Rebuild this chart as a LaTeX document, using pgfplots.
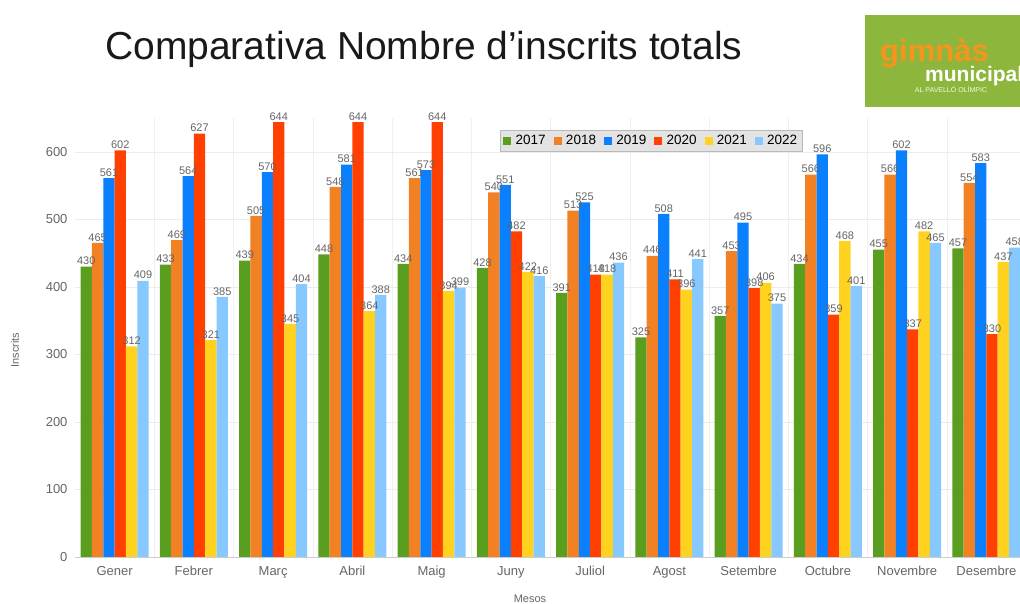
\documentclass[border=0pt]{standalone}
\usepackage{pgfplots}
\pgfplotsset{compat=1.18}
\usepackage{fontspec}
\setmainfont{Liberation Sans}
\definecolor{c17}{HTML}{5A9E1F}
\definecolor{c18}{HTML}{F28124}
\definecolor{c19}{HTML}{0A80FF}
\definecolor{c20}{HTML}{FF4000}
\definecolor{c21}{HTML}{FFD21F}
\definecolor{c22}{HTML}{87C8FF}
\definecolor{logogreen}{HTML}{8DB63C}
\definecolor{logoorange}{HTML}{F7941D}
\definecolor{lblgray}{HTML}{666666}
\begin{document}
\begin{tikzpicture}[x=1pt,y=1pt]
\path[use as bounding box, clip] (0,0) rectangle (1020,603);
\fill[white] (0,0) rectangle (1020,603);
\begin{axis}[
  at={(75pt,46pt)}, anchor=south west,
  scale only axis, width=951pt, height=439pt,
  xmin=-0.5, xmax=11.5, ymin=0, ymax=650,
  clip=false,
  ybar=0pt, bar width=0.143,
  axis line style={draw=none},
  xtick={0,...,11},
  xticklabels={Gener,Febrer,Març,Abril,Maig,Juny,Juliol,Agost,Setembre,Octubre,Novembre,Desembre},
  minor xtick={0.5,1.5,...,10.5},
  xminorgrids, ymajorgrids,
  minor grid style={gray!12},
  major grid style={gray!15},
  ytick={0,100,...,600},
  major tick length=0pt, minor tick length=0pt,
  /pgf/number format/assume math mode=true,
  ticklabel style={font=\fontsize{13}{13}\selectfont, text=lblgray},
  xticklabel style={yshift=-6pt},
  yticklabel style={xshift=-4pt},
  nodes near coords,
  every node near coord/.append style={font=\fontsize{11}{11}\selectfont, text=lblgray, inner sep=1.5pt},
  legend style={at={(0.606,0.948)}, anchor=center, fill=gray!22, draw=gray!55,
    font=\fontsize{13.5}{13.5}\selectfont, inner ysep=3pt,
    /tikz/every even column/.append style={column sep=6pt}},
  legend columns=-1,
  legend image code/.code={\fill[#1,draw=none] (0pt,-4pt) rectangle (8pt,4pt);},
]
\addplot[fill=c17,draw=none] coordinates {(0,430)(1,433)(2,439)(3,448)(4,434)(5,428)(6,391)(7,325)(8,357)(9,434)(10,455)(11,457)};
\addplot[fill=c18,draw=none] coordinates {(0,465)(1,469)(2,505)(3,548)(4,561)(5,540)(6,513)(7,446)(8,453)(9,566)(10,566)(11,554)};
\addplot[fill=c19,draw=none] coordinates {(0,561)(1,564)(2,570)(3,581)(4,573)(5,551)(6,525)(7,508)(8,495)(9,596)(10,602)(11,583)};
\addplot[fill=c20,draw=none] coordinates {(0,602)(1,627)(2,644)(3,644)(4,644)(5,482)(6,418)(7,411)(8,398)(9,359)(10,337)(11,330)};
\addplot[fill=c21,draw=none] coordinates {(0,312)(1,321)(2,345)(3,364)(4,394)(5,422)(6,418)(7,396)(8,406)(9,468)(10,482)(11,437)};
\addplot[fill=c22,draw=none] coordinates {(0,409)(1,385)(2,404)(3,388)(4,399)(5,416)(6,436)(7,441)(8,375)(9,401)(10,465)(11,458)};
\legend{\,2017,\,2018,\,2019,\,2020,\,2021,\,2022}
\draw[gray!40] (axis cs:-0.5,0) -- (axis cs:11.5,0);
\end{axis}
\node[anchor=base west, inner sep=0pt, font=\fontsize{39}{39}\selectfont, text=black!90] at (105,543) {Comparativa Nombre d’inscrits totals};
\fill[logogreen] (865,496) rectangle (1020,588);
\node[anchor=base west, inner sep=0pt, text=logoorange, font=\fontsize{31}{31}\selectfont\bfseries] at (880,541) {gimnàs};
\node[anchor=base west, inner sep=0pt, text=white, font=\fontsize{21}{21}\selectfont\bfseries] at (925,521) {municipal};
\node[anchor=center, inner sep=0pt, text=white!90!logogreen, font=\fontsize{7}{7}\selectfont] at (951,513) {AL PAVELLÓ OLÍMPIC};
\node[rotate=90, font=\fontsize{11}{11}\selectfont, text=lblgray] at (15,253) {Inscrits};
\node[font=\fontsize{11}{11}\selectfont, text=lblgray] at (530,4) {Mesos};
\end{tikzpicture}
\end{document}
